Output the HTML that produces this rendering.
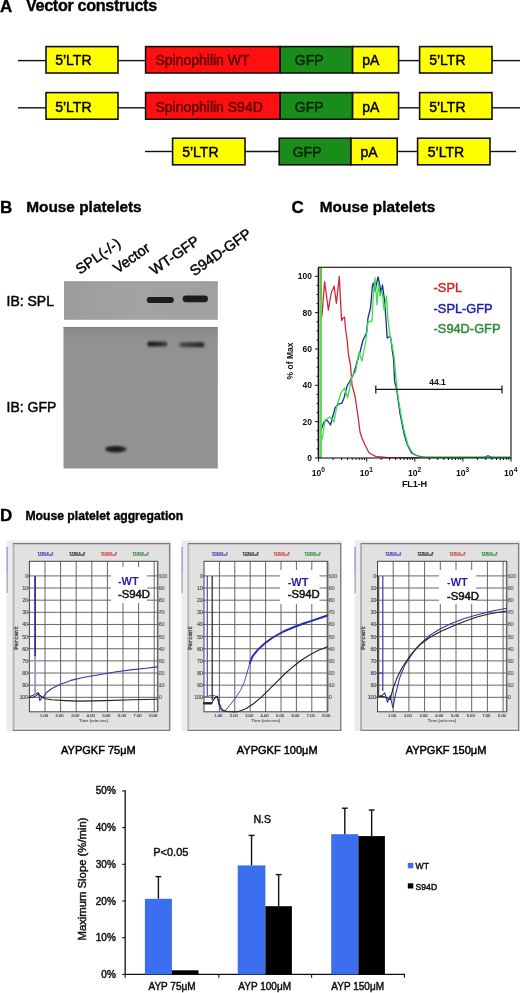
<!DOCTYPE html>
<html><head><meta charset="utf-8"><title>Figure</title>
<style>html,body{margin:0;padding:0;background:#fff;}svg{display:block;filter:blur(0.3px);}
</style></head>
<body><svg width="520" height="993" viewBox="0 0 520 993" font-family='"Liberation Sans", sans-serif'>
<rect x="0" y="0" width="520" height="993" fill="#fff"/>
<text x="0" y="11.6" font-size="17" font-weight="bold" fill="#000" text-anchor="start" stroke="#000" stroke-width="0.35" >A</text>
<text x="26" y="11" font-size="16.2" font-weight="bold" fill="#000" text-anchor="start" stroke="#000" stroke-width="0.35" letter-spacing="-0.35">Vector constructs</text>
<line x1="18" y1="60.6" x2="46" y2="60.6" stroke="#111" stroke-width="1.4" />
<line x1="118" y1="60.6" x2="145.6" y2="60.6" stroke="#111" stroke-width="1.4" />
<line x1="398.6" y1="60.6" x2="419.6" y2="60.6" stroke="#111" stroke-width="1.4" />
<line x1="492" y1="60.6" x2="520" y2="60.6" stroke="#111" stroke-width="1.4" />
<rect x="46" y="46.6" width="72" height="26.4" fill="#ffff00" stroke="#111" stroke-width="1.6" />
<text x="55.2" y="65.4" font-size="14" font-weight="normal" fill="#000" text-anchor="start" stroke="#000" stroke-width="0.45" >5’LTR</text>
<rect x="145.6" y="46.6" width="134.6" height="26.4" fill="#ff1010" stroke="#111" stroke-width="1.6" />
<text x="155.4" y="65.4" font-size="14" font-weight="normal" fill="#5a0000" text-anchor="start" stroke="#5a0000" stroke-width="0.45" >Spinophilin WT</text>
<rect x="280.2" y="46.6" width="72.40000000000003" height="26.4" fill="#1a8c1a" stroke="#111" stroke-width="1.6" />
<text x="294.8" y="65.4" font-size="14" font-weight="normal" fill="#062006" text-anchor="start" stroke="#062006" stroke-width="0.45" >GFP</text>
<rect x="352.6" y="46.6" width="46.0" height="26.4" fill="#ffff00" stroke="#111" stroke-width="1.6" />
<text x="362.3" y="65.4" font-size="14" font-weight="normal" fill="#000" text-anchor="start" stroke="#000" stroke-width="0.45" >pA</text>
<rect x="419.6" y="46.6" width="72.39999999999998" height="26.4" fill="#ffff00" stroke="#111" stroke-width="1.6" />
<text x="429.2" y="65.4" font-size="14" font-weight="normal" fill="#000" text-anchor="start" stroke="#000" stroke-width="0.45" >5’LTR</text>
<line x1="18" y1="107.8" x2="46" y2="107.8" stroke="#111" stroke-width="1.4" />
<line x1="118" y1="107.8" x2="145.6" y2="107.8" stroke="#111" stroke-width="1.4" />
<line x1="398.6" y1="107.8" x2="419.6" y2="107.8" stroke="#111" stroke-width="1.4" />
<line x1="492" y1="107.8" x2="520" y2="107.8" stroke="#111" stroke-width="1.4" />
<rect x="46" y="92.6" width="72" height="26.60000000000001" fill="#ffff00" stroke="#111" stroke-width="1.6" />
<text x="55.2" y="111.60000000000001" font-size="14" font-weight="normal" fill="#000" text-anchor="start" stroke="#000" stroke-width="0.45" >5’LTR</text>
<rect x="145.6" y="92.6" width="134.6" height="26.60000000000001" fill="#ff1010" stroke="#111" stroke-width="1.6" />
<text x="155.4" y="111.60000000000001" font-size="14" font-weight="normal" fill="#5a0000" text-anchor="start" stroke="#5a0000" stroke-width="0.45" >Spinophilin S94D</text>
<rect x="280.2" y="92.6" width="72.40000000000003" height="26.60000000000001" fill="#1a8c1a" stroke="#111" stroke-width="1.6" />
<text x="294.8" y="111.60000000000001" font-size="14" font-weight="normal" fill="#062006" text-anchor="start" stroke="#062006" stroke-width="0.45" >GFP</text>
<rect x="352.6" y="92.6" width="46.0" height="26.60000000000001" fill="#ffff00" stroke="#111" stroke-width="1.6" />
<text x="362.3" y="111.60000000000001" font-size="14" font-weight="normal" fill="#000" text-anchor="start" stroke="#000" stroke-width="0.45" >pA</text>
<rect x="419.6" y="92.6" width="72.39999999999998" height="26.60000000000001" fill="#ffff00" stroke="#111" stroke-width="1.6" />
<text x="429.2" y="111.60000000000001" font-size="14" font-weight="normal" fill="#000" text-anchor="start" stroke="#000" stroke-width="0.45" >5’LTR</text>
<line x1="145" y1="151.5" x2="172.6" y2="151.5" stroke="#111" stroke-width="1.4" />
<line x1="245" y1="151.5" x2="279.2" y2="151.5" stroke="#111" stroke-width="1.4" />
<line x1="397.2" y1="151.5" x2="417.6" y2="151.5" stroke="#111" stroke-width="1.4" />
<line x1="490" y1="151.5" x2="516" y2="151.5" stroke="#111" stroke-width="1.4" />
<rect x="172.6" y="138.2" width="72.4" height="26.600000000000023" fill="#ffff00" stroke="#111" stroke-width="1.6" />
<text x="182.2" y="157.20000000000002" font-size="14" font-weight="normal" fill="#000" text-anchor="start" stroke="#000" stroke-width="0.45" >5’LTR</text>
<rect x="279.2" y="138.2" width="71.80000000000001" height="26.600000000000023" fill="#1a8c1a" stroke="#111" stroke-width="1.6" />
<text x="292.7" y="157.20000000000002" font-size="14" font-weight="normal" fill="#062006" text-anchor="start" stroke="#062006" stroke-width="0.45" >GFP</text>
<rect x="351" y="138.2" width="46.19999999999999" height="26.600000000000023" fill="#ffff00" stroke="#111" stroke-width="1.6" />
<text x="360.4" y="157.20000000000002" font-size="14" font-weight="normal" fill="#000" text-anchor="start" stroke="#000" stroke-width="0.45" >pA</text>
<rect x="417.6" y="138.2" width="72.39999999999998" height="26.600000000000023" fill="#ffff00" stroke="#111" stroke-width="1.6" />
<text x="427.8" y="157.20000000000002" font-size="14" font-weight="normal" fill="#000" text-anchor="start" stroke="#000" stroke-width="0.45" >5’LTR</text>
<text x="0" y="212.6" font-size="17" font-weight="bold" fill="#000" text-anchor="start" stroke="#000" stroke-width="0.35" >B</text>
<text x="26.2" y="212" font-size="15.4" font-weight="bold" fill="#000" text-anchor="start" stroke="#000" stroke-width="0.35" >Mouse platelets</text>
<text x="0" y="0" font-size="14.5" font-weight="normal" fill="#000" text-anchor="start" stroke="#000" stroke-width="0.45" transform="translate(80.1,274.7) rotate(-35)">SPL(-/-)</text>
<text x="0" y="0" font-size="14.5" font-weight="normal" fill="#000" text-anchor="start" stroke="#000" stroke-width="0.45" transform="translate(117.5,273.8) rotate(-35)">Vector</text>
<text x="0" y="0" font-size="14.5" font-weight="normal" fill="#000" text-anchor="start" stroke="#000" stroke-width="0.45" transform="translate(154.2,275.6) rotate(-35)">WT-GFP</text>
<text x="0" y="0" font-size="14.5" font-weight="normal" fill="#000" text-anchor="start" stroke="#000" stroke-width="0.45" transform="translate(194.3,276.5) rotate(-35)">S94D-GFP</text>
<text x="6.5" y="306" font-size="14" font-weight="normal" fill="#000" text-anchor="start" stroke="#000" stroke-width="0.45" >IB: SPL</text>
<text x="6.5" y="411.7" font-size="14" font-weight="normal" fill="#000" text-anchor="start" stroke="#000" stroke-width="0.45" >IB: GFP</text>
<defs><filter id="bl1" x="-50%" y="-100%" width="200%" height="300%"><feGaussianBlur stdDeviation="0.9"/></filter><filter id="bl2" x="-50%" y="-100%" width="200%" height="300%"><feGaussianBlur stdDeviation="0.75"/></filter><linearGradient id="g1" x1="0" y1="0" x2="1" y2="0"><stop offset="0" stop-color="#9c9c9c"/><stop offset="0.5" stop-color="#a3a3a3"/><stop offset="1" stop-color="#a0a0a0"/></linearGradient><linearGradient id="g2" x1="0" y1="0" x2="0" y2="1"><stop offset="0" stop-color="#8a8a8a"/><stop offset="0.1" stop-color="#919191"/><stop offset="1" stop-color="#939393"/></linearGradient></defs>
<rect x="64" y="281.5" width="153.8" height="38.3" fill="url(#g1)" stroke="none" stroke-width="1" />
<rect x="63.5" y="327" width="154.3" height="141.5" fill="url(#g2)" stroke="none" stroke-width="1" />
<line x1="63.5" y1="327.6" x2="217.8" y2="327.6" stroke="#7c7c7c" stroke-width="1" />
<line x1="64" y1="281.9" x2="217.8" y2="281.9" stroke="#929292" stroke-width="0.8" />
<defs><linearGradient id="bg1" x1="0" y1="0" x2="1" y2="0"><stop offset="0" stop-color="#1a1a1a"/><stop offset="0.6" stop-color="#2a2a2a"/><stop offset="1" stop-color="#4a4a4a"/></linearGradient><linearGradient id="bg2" x1="0" y1="0" x2="1" y2="0"><stop offset="0" stop-color="#505050"/><stop offset="0.5" stop-color="#383838"/><stop offset="1" stop-color="#242424"/></linearGradient><linearGradient id="bg3" x1="0" y1="0" x2="1" y2="0"><stop offset="0" stop-color="#1c1c1c"/><stop offset="0.7" stop-color="#202020"/><stop offset="1" stop-color="#3a3a3a"/></linearGradient><filter id="bl3" x="-50%" y="-100%" width="200%" height="300%"><feGaussianBlur stdDeviation="1.0"/></filter></defs>
<rect x="146.8" y="296.9" width="27.0" height="6.2000000000000455" rx="3.1000000000000227" fill="#1e1e1e" filter="url(#bl2)"/>
<rect x="182.6" y="295.4" width="25.400000000000006" height="6.900000000000034" rx="3.450000000000017" fill="#1e1e1e" filter="url(#bl2)"/>
<rect x="147.3" y="341.6" width="20.299999999999983" height="5.0" rx="2.5" fill="url(#bg1)" filter="url(#bl3)"/>
<rect x="179.2" y="342.2" width="25.200000000000017" height="5.0" rx="2.5" fill="url(#bg2)" filter="url(#bl3)"/>
<ellipse cx="116" cy="449.2" rx="10.8" ry="3.3" fill="url(#bg3)" filter="url(#bl3)"/>
<text x="291.6" y="212.6" font-size="17" font-weight="bold" fill="#000" text-anchor="start" stroke="#000" stroke-width="0.35" >C</text>
<text x="319.8" y="212" font-size="15.4" font-weight="bold" fill="#000" text-anchor="start" stroke="#000" stroke-width="0.35" >Mouse platelets</text>
<polyline points="321.0,318.0 322.0,315.4 324.6,281.6 326.5,296.0 328.4,310.2 330.0,300.0 331.5,292.0 333.0,289.0 334.1,286.0 335.3,295.0 336.4,303.3 337.8,290.0 339.3,276.4 340.5,300.0 341.6,320.6 343.0,318.0 344.5,317.1 345.7,330.0 347.1,340.0 348.5,355.0 350.5,365.0 352.0,385.0 355.0,396.0 358.5,420.0 360.0,432.0 362.0,438.0 365.0,445.0 369.2,453.0 375.6,456.3 386.0,457.3 420.0,457.6" fill="none" stroke="#cc2a36" stroke-width="1.3" stroke-linejoin="round" stroke-linecap="round" />
<polyline points="320.8,432.0 321.0,430.0 324.0,422.0 327.0,420.0 330.5,425.0 335.0,408.0 338.5,404.0 342.0,403.0 344.0,398.0 347.0,386.0 350.0,381.0 354.0,373.0 357.0,362.0 360.0,352.0 363.0,340.0 366.5,333.0 368.0,318.0 370.5,308.0 372.5,285.0 373.5,283.0 375.0,291.0 378.0,277.0 380.0,286.0 381.0,293.0 382.5,285.0 384.5,300.0 386.0,320.0 387.2,338.0 390.4,336.2 392.5,352.0 393.6,359.4 394.6,381.2 396.7,389.6 399.9,412.9 404.1,434.0 407.3,444.6 411.5,453.0 415.8,455.2 420.0,456.5 425.0,457.3 484.0,457.3 488.0,455.8 492.0,457.3 510.0,457.3" fill="none" stroke="#1c2a9c" stroke-width="1.3" stroke-linejoin="round" stroke-linecap="round" />
<polyline points="321.0,440.0 322.5,438.0 325.0,420.0 330.0,417.0 334.0,422.0 337.0,405.0 341.0,393.0 344.5,388.0 347.5,398.0 352.0,376.0 355.5,372.0 359.0,352.0 362.0,361.0 366.0,340.0 368.0,322.0 372.0,321.0 373.0,300.0 375.0,278.0 377.0,305.0 378.5,283.0 380.0,296.0 382.0,290.0 384.0,310.0 386.5,296.0 388.0,320.0 390.0,335.0 392.0,345.0 394.0,356.0 396.0,378.0 398.0,396.0 401.0,415.0 404.0,430.0 408.0,445.0 412.0,452.0 416.0,455.5 420.0,457.2 510.0,457.2" fill="none" stroke="#3ddc4a" stroke-width="1.3" stroke-linejoin="round" stroke-linecap="round" />
<line x1="320.9" y1="268" x2="320.9" y2="458" stroke="#4ede4e" stroke-width="2" />
<line x1="321.2" y1="268" x2="321.2" y2="300" stroke="#a06020" stroke-width="0.8" opacity="0.6"/>
<rect x="318.6" y="267.3" width="192.39999999999998" height="190.7" fill="none" stroke="#111" stroke-width="1.1" />
<line x1="318.40000000000003" y1="267.3" x2="318.40000000000003" y2="458" stroke="#111" stroke-width="1.5" />
<line x1="315.0" y1="458.0" x2="318.6" y2="458.0" stroke="#111" stroke-width="1" />
<line x1="316.6" y1="448.915" x2="318.6" y2="448.915" stroke="#111" stroke-width="1" />
<line x1="316.6" y1="439.83" x2="318.6" y2="439.83" stroke="#111" stroke-width="1" />
<line x1="316.6" y1="430.745" x2="318.6" y2="430.745" stroke="#111" stroke-width="1" />
<line x1="315.0" y1="421.65999999999997" x2="318.6" y2="421.65999999999997" stroke="#111" stroke-width="1" />
<line x1="316.6" y1="412.575" x2="318.6" y2="412.575" stroke="#111" stroke-width="1" />
<line x1="316.6" y1="403.49" x2="318.6" y2="403.49" stroke="#111" stroke-width="1" />
<line x1="316.6" y1="394.405" x2="318.6" y2="394.405" stroke="#111" stroke-width="1" />
<line x1="315.0" y1="385.32" x2="318.6" y2="385.32" stroke="#111" stroke-width="1" />
<line x1="316.6" y1="376.235" x2="318.6" y2="376.235" stroke="#111" stroke-width="1" />
<line x1="316.6" y1="367.15" x2="318.6" y2="367.15" stroke="#111" stroke-width="1" />
<line x1="316.6" y1="358.065" x2="318.6" y2="358.065" stroke="#111" stroke-width="1" />
<line x1="315.0" y1="348.98" x2="318.6" y2="348.98" stroke="#111" stroke-width="1" />
<line x1="316.6" y1="339.895" x2="318.6" y2="339.895" stroke="#111" stroke-width="1" />
<line x1="316.6" y1="330.81" x2="318.6" y2="330.81" stroke="#111" stroke-width="1" />
<line x1="316.6" y1="321.725" x2="318.6" y2="321.725" stroke="#111" stroke-width="1" />
<line x1="315.0" y1="312.64" x2="318.6" y2="312.64" stroke="#111" stroke-width="1" />
<line x1="316.6" y1="303.555" x2="318.6" y2="303.555" stroke="#111" stroke-width="1" />
<line x1="316.6" y1="294.47" x2="318.6" y2="294.47" stroke="#111" stroke-width="1" />
<line x1="316.6" y1="285.385" x2="318.6" y2="285.385" stroke="#111" stroke-width="1" />
<line x1="315.0" y1="276.3" x2="318.6" y2="276.3" stroke="#111" stroke-width="1" />
<text x="312" y="461.0" font-size="8.5" font-weight="bold" fill="#111" text-anchor="end" >0</text>
<text x="312" y="424.65999999999997" font-size="8.5" font-weight="bold" fill="#111" text-anchor="end" >20</text>
<text x="312" y="388.32" font-size="8.5" font-weight="bold" fill="#111" text-anchor="end" >40</text>
<text x="312" y="351.98" font-size="8.5" font-weight="bold" fill="#111" text-anchor="end" >60</text>
<text x="312" y="315.64" font-size="8.5" font-weight="bold" fill="#111" text-anchor="end" >80</text>
<text x="312" y="279.3" font-size="8.5" font-weight="bold" fill="#111" text-anchor="end" >100</text>
<text x="0" y="0" font-size="8.5" font-weight="bold" fill="#111" text-anchor="middle" transform="translate(292.6,361) rotate(-90)">% of Max</text>
<line x1="318.6" y1="458" x2="318.6" y2="461.6" stroke="#111" stroke-width="1" />
<line x1="333.0795427914375" y1="458" x2="333.0795427914375" y2="460" stroke="#111" stroke-width="1" />
<line x1="341.5495323520158" y1="458" x2="341.5495323520158" y2="460" stroke="#111" stroke-width="1" />
<line x1="347.559085582875" y1="458" x2="347.559085582875" y2="460" stroke="#111" stroke-width="1" />
<line x1="352.22045720856255" y1="458" x2="352.22045720856255" y2="460" stroke="#111" stroke-width="1" />
<line x1="356.02907514345327" y1="458" x2="356.02907514345327" y2="460" stroke="#111" stroke-width="1" />
<line x1="359.24921572468577" y1="458" x2="359.24921572468577" y2="460" stroke="#111" stroke-width="1" />
<line x1="362.0386283743125" y1="458" x2="362.0386283743125" y2="460" stroke="#111" stroke-width="1" />
<line x1="364.4990647040315" y1="458" x2="364.4990647040315" y2="460" stroke="#111" stroke-width="1" />
<line x1="366.70000000000005" y1="458" x2="366.70000000000005" y2="461.6" stroke="#111" stroke-width="1" />
<line x1="381.1795427914375" y1="458" x2="381.1795427914375" y2="460" stroke="#111" stroke-width="1" />
<line x1="389.64953235201574" y1="458" x2="389.64953235201574" y2="460" stroke="#111" stroke-width="1" />
<line x1="395.65908558287504" y1="458" x2="395.65908558287504" y2="460" stroke="#111" stroke-width="1" />
<line x1="400.3204572085625" y1="458" x2="400.3204572085625" y2="460" stroke="#111" stroke-width="1" />
<line x1="404.1290751434533" y1="458" x2="404.1290751434533" y2="460" stroke="#111" stroke-width="1" />
<line x1="407.3492157246858" y1="458" x2="407.3492157246858" y2="460" stroke="#111" stroke-width="1" />
<line x1="410.1386283743125" y1="458" x2="410.1386283743125" y2="460" stroke="#111" stroke-width="1" />
<line x1="412.59906470403155" y1="458" x2="412.59906470403155" y2="460" stroke="#111" stroke-width="1" />
<line x1="414.8" y1="458" x2="414.8" y2="461.6" stroke="#111" stroke-width="1" />
<line x1="429.2795427914375" y1="458" x2="429.2795427914375" y2="460" stroke="#111" stroke-width="1" />
<line x1="437.74953235201576" y1="458" x2="437.74953235201576" y2="460" stroke="#111" stroke-width="1" />
<line x1="443.759085582875" y1="458" x2="443.759085582875" y2="460" stroke="#111" stroke-width="1" />
<line x1="448.42045720856254" y1="458" x2="448.42045720856254" y2="460" stroke="#111" stroke-width="1" />
<line x1="452.2290751434533" y1="458" x2="452.2290751434533" y2="460" stroke="#111" stroke-width="1" />
<line x1="455.44921572468576" y1="458" x2="455.44921572468576" y2="460" stroke="#111" stroke-width="1" />
<line x1="458.2386283743125" y1="458" x2="458.2386283743125" y2="460" stroke="#111" stroke-width="1" />
<line x1="460.6990647040315" y1="458" x2="460.6990647040315" y2="460" stroke="#111" stroke-width="1" />
<line x1="462.9" y1="458" x2="462.9" y2="461.6" stroke="#111" stroke-width="1" />
<line x1="477.37954279143753" y1="458" x2="477.37954279143753" y2="460" stroke="#111" stroke-width="1" />
<line x1="485.8495323520158" y1="458" x2="485.8495323520158" y2="460" stroke="#111" stroke-width="1" />
<line x1="491.85908558287497" y1="458" x2="491.85908558287497" y2="460" stroke="#111" stroke-width="1" />
<line x1="496.5204572085625" y1="458" x2="496.5204572085625" y2="460" stroke="#111" stroke-width="1" />
<line x1="500.3290751434533" y1="458" x2="500.3290751434533" y2="460" stroke="#111" stroke-width="1" />
<line x1="503.5492157246857" y1="458" x2="503.5492157246857" y2="460" stroke="#111" stroke-width="1" />
<line x1="506.3386283743125" y1="458" x2="506.3386283743125" y2="460" stroke="#111" stroke-width="1" />
<line x1="508.7990647040315" y1="458" x2="508.7990647040315" y2="460" stroke="#111" stroke-width="1" />
<line x1="511" y1="458" x2="511" y2="461.6" stroke="#111" stroke-width="1" />
<text x="318.3" y="476.3" font-size="8.6" font-weight="bold" fill="#111" text-anchor="middle">10<tspan font-size="6.6" dy="-4.4">0</tspan></text>
<text x="366.40000000000003" y="476.3" font-size="8.6" font-weight="bold" fill="#111" text-anchor="middle">10<tspan font-size="6.6" dy="-4.4">1</tspan></text>
<text x="414.5" y="476.3" font-size="8.6" font-weight="bold" fill="#111" text-anchor="middle">10<tspan font-size="6.6" dy="-4.4">2</tspan></text>
<text x="462.59999999999997" y="476.3" font-size="8.6" font-weight="bold" fill="#111" text-anchor="middle">10<tspan font-size="6.6" dy="-4.4">3</tspan></text>
<text x="510.7" y="476.3" font-size="8.6" font-weight="bold" fill="#111" text-anchor="middle">10<tspan font-size="6.6" dy="-4.4">4</tspan></text>
<text x="414.4" y="486.5" font-size="9.2" font-weight="bold" fill="#111" text-anchor="middle" letter-spacing="-0.2">FL1-H</text>
<line x1="375.8" y1="389.4" x2="502" y2="389.4" stroke="#111" stroke-width="1.4" />
<line x1="375.8" y1="385.4" x2="375.8" y2="393.6" stroke="#111" stroke-width="1.2" />
<line x1="502" y1="385.4" x2="502" y2="393.6" stroke="#111" stroke-width="1.2" />
<text x="437.5" y="385" font-size="8.5" font-weight="bold" fill="#111" text-anchor="middle" >44.1</text>
<text x="433.6" y="291.5" font-size="12.8" font-weight="normal" fill="#d02828" text-anchor="start" stroke="#d02828" stroke-width="0.45" >-SPL</text>
<text x="433.6" y="312.7" font-size="12.8" font-weight="normal" fill="#1e1eaa" text-anchor="start" stroke="#1e1eaa" stroke-width="0.45" >-SPL-GFP</text>
<text x="433.6" y="332.5" font-size="12.8" font-weight="normal" fill="#2e8a3a" text-anchor="start" stroke="#2e8a3a" stroke-width="0.45" >-S94D-GFP</text>
<text x="0" y="520.8" font-size="17" font-weight="bold" fill="#000" text-anchor="start" stroke="#000" stroke-width="0.35" >D</text>
<text x="25.4" y="519.5" font-size="12.2" font-weight="bold" fill="#000" text-anchor="start" stroke="#000" stroke-width="0.35" >Mouse platelet aggregation</text>
<rect x="6.5" y="540.5" width="164.5" height="190.5" fill="#ececec" stroke="none" stroke-width="1" />
<line x1="7.1" y1="547" x2="7.1" y2="572" stroke="#8888dd" stroke-width="1.2" />
<line x1="7.1" y1="572" x2="7.1" y2="593" stroke="#a0a0b0" stroke-width="1.2" />
<rect x="13.5" y="543.6" width="156.1" height="186.69999999999993" fill="#e1e1e1" stroke="#7c7c7c" stroke-width="1.3" />
<line x1="13.5" y1="544.2" x2="13.5" y2="729.8" stroke="#b4b4b4" stroke-width="1.3" />
<line x1="14.7" y1="728.8" x2="168.6" y2="728.8" stroke="#f4f4f4" stroke-width="0.8" />
<rect x="29.4" y="561.3" width="128.2" height="150.5" fill="#ffffff" stroke="none" stroke-width="1" />
<line x1="45.0" y1="561.3" x2="45.0" y2="711.8" stroke="#555" stroke-width="0.9" />
<line x1="60.599999999999994" y1="561.3" x2="60.599999999999994" y2="711.8" stroke="#555" stroke-width="0.9" />
<line x1="76.19999999999999" y1="561.3" x2="76.19999999999999" y2="711.8" stroke="#555" stroke-width="0.9" />
<line x1="91.8" y1="561.3" x2="91.8" y2="711.8" stroke="#555" stroke-width="0.9" />
<line x1="107.4" y1="561.3" x2="107.4" y2="711.8" stroke="#555" stroke-width="0.9" />
<line x1="123.0" y1="561.3" x2="123.0" y2="711.8" stroke="#555" stroke-width="0.9" />
<line x1="138.6" y1="561.3" x2="138.6" y2="711.8" stroke="#555" stroke-width="0.9" />
<line x1="154.2" y1="561.3" x2="154.2" y2="711.8" stroke="#555" stroke-width="0.9" />
<line x1="29.4" y1="575.9" x2="157.6" y2="575.9" stroke="#555" stroke-width="0.9" />
<line x1="29.4" y1="588.04" x2="157.6" y2="588.04" stroke="#555" stroke-width="0.9" />
<line x1="29.4" y1="600.18" x2="157.6" y2="600.18" stroke="#555" stroke-width="0.9" />
<line x1="29.4" y1="612.3199999999999" x2="157.6" y2="612.3199999999999" stroke="#555" stroke-width="0.9" />
<line x1="29.4" y1="624.46" x2="157.6" y2="624.46" stroke="#555" stroke-width="0.9" />
<line x1="29.4" y1="636.6" x2="157.6" y2="636.6" stroke="#555" stroke-width="0.9" />
<line x1="29.4" y1="648.74" x2="157.6" y2="648.74" stroke="#555" stroke-width="0.9" />
<line x1="29.4" y1="660.88" x2="157.6" y2="660.88" stroke="#555" stroke-width="0.9" />
<line x1="29.4" y1="673.02" x2="157.6" y2="673.02" stroke="#555" stroke-width="0.9" />
<line x1="29.4" y1="685.16" x2="157.6" y2="685.16" stroke="#555" stroke-width="0.9" />
<line x1="29.4" y1="697.3" x2="157.6" y2="697.3" stroke="#555" stroke-width="0.9" />
<rect x="29.4" y="561.3" width="128.2" height="150.5" fill="none" stroke="#444" stroke-width="1" />
<line x1="157.6" y1="561.3" x2="157.6" y2="711.8" stroke="#666" stroke-width="1.4" />
<line x1="27.4" y1="575.9" x2="29.4" y2="575.9" stroke="#555" stroke-width="0.9" />
<line x1="157.6" y1="575.9" x2="159.79999999999998" y2="575.9" stroke="#666" stroke-width="0.9" />
<text x="27.9" y="577.9" font-size="5.6" font-weight="normal" fill="#555" text-anchor="end" stroke="#555" stroke-width="0.15" letter-spacing="-0.35">0</text>
<text x="158.79999999999998" y="577.9" font-size="5.6" font-weight="normal" fill="#666" text-anchor="start" stroke="#666" stroke-width="0.15" letter-spacing="-0.35">100</text>
<line x1="27.4" y1="588.04" x2="29.4" y2="588.04" stroke="#555" stroke-width="0.9" />
<line x1="157.6" y1="588.04" x2="159.79999999999998" y2="588.04" stroke="#666" stroke-width="0.9" />
<text x="27.9" y="590.04" font-size="5.6" font-weight="normal" fill="#555" text-anchor="end" stroke="#555" stroke-width="0.15" letter-spacing="-0.35">10</text>
<text x="158.79999999999998" y="590.04" font-size="5.6" font-weight="normal" fill="#666" text-anchor="start" stroke="#666" stroke-width="0.15" letter-spacing="-0.35">90</text>
<line x1="27.4" y1="600.18" x2="29.4" y2="600.18" stroke="#555" stroke-width="0.9" />
<line x1="157.6" y1="600.18" x2="159.79999999999998" y2="600.18" stroke="#666" stroke-width="0.9" />
<text x="27.9" y="602.18" font-size="5.6" font-weight="normal" fill="#555" text-anchor="end" stroke="#555" stroke-width="0.15" letter-spacing="-0.35">20</text>
<text x="158.79999999999998" y="602.18" font-size="5.6" font-weight="normal" fill="#666" text-anchor="start" stroke="#666" stroke-width="0.15" letter-spacing="-0.35">80</text>
<line x1="27.4" y1="612.3199999999999" x2="29.4" y2="612.3199999999999" stroke="#555" stroke-width="0.9" />
<line x1="157.6" y1="612.3199999999999" x2="159.79999999999998" y2="612.3199999999999" stroke="#666" stroke-width="0.9" />
<text x="27.9" y="614.3199999999999" font-size="5.6" font-weight="normal" fill="#555" text-anchor="end" stroke="#555" stroke-width="0.15" letter-spacing="-0.35">30</text>
<text x="158.79999999999998" y="614.3199999999999" font-size="5.6" font-weight="normal" fill="#666" text-anchor="start" stroke="#666" stroke-width="0.15" letter-spacing="-0.35">70</text>
<line x1="27.4" y1="624.46" x2="29.4" y2="624.46" stroke="#555" stroke-width="0.9" />
<line x1="157.6" y1="624.46" x2="159.79999999999998" y2="624.46" stroke="#666" stroke-width="0.9" />
<text x="27.9" y="626.46" font-size="5.6" font-weight="normal" fill="#555" text-anchor="end" stroke="#555" stroke-width="0.15" letter-spacing="-0.35">40</text>
<text x="158.79999999999998" y="626.46" font-size="5.6" font-weight="normal" fill="#666" text-anchor="start" stroke="#666" stroke-width="0.15" letter-spacing="-0.35">60</text>
<line x1="27.4" y1="636.6" x2="29.4" y2="636.6" stroke="#555" stroke-width="0.9" />
<line x1="157.6" y1="636.6" x2="159.79999999999998" y2="636.6" stroke="#666" stroke-width="0.9" />
<text x="27.9" y="638.6" font-size="5.6" font-weight="normal" fill="#555" text-anchor="end" stroke="#555" stroke-width="0.15" letter-spacing="-0.35">50</text>
<text x="158.79999999999998" y="638.6" font-size="5.6" font-weight="normal" fill="#666" text-anchor="start" stroke="#666" stroke-width="0.15" letter-spacing="-0.35">50</text>
<line x1="27.4" y1="648.74" x2="29.4" y2="648.74" stroke="#555" stroke-width="0.9" />
<line x1="157.6" y1="648.74" x2="159.79999999999998" y2="648.74" stroke="#666" stroke-width="0.9" />
<text x="27.9" y="650.74" font-size="5.6" font-weight="normal" fill="#555" text-anchor="end" stroke="#555" stroke-width="0.15" letter-spacing="-0.35">60</text>
<text x="158.79999999999998" y="650.74" font-size="5.6" font-weight="normal" fill="#666" text-anchor="start" stroke="#666" stroke-width="0.15" letter-spacing="-0.35">40</text>
<line x1="27.4" y1="660.88" x2="29.4" y2="660.88" stroke="#555" stroke-width="0.9" />
<line x1="157.6" y1="660.88" x2="159.79999999999998" y2="660.88" stroke="#666" stroke-width="0.9" />
<text x="27.9" y="662.88" font-size="5.6" font-weight="normal" fill="#555" text-anchor="end" stroke="#555" stroke-width="0.15" letter-spacing="-0.35">70</text>
<text x="158.79999999999998" y="662.88" font-size="5.6" font-weight="normal" fill="#666" text-anchor="start" stroke="#666" stroke-width="0.15" letter-spacing="-0.35">30</text>
<line x1="27.4" y1="673.02" x2="29.4" y2="673.02" stroke="#555" stroke-width="0.9" />
<line x1="157.6" y1="673.02" x2="159.79999999999998" y2="673.02" stroke="#666" stroke-width="0.9" />
<text x="27.9" y="675.02" font-size="5.6" font-weight="normal" fill="#555" text-anchor="end" stroke="#555" stroke-width="0.15" letter-spacing="-0.35">80</text>
<text x="158.79999999999998" y="675.02" font-size="5.6" font-weight="normal" fill="#666" text-anchor="start" stroke="#666" stroke-width="0.15" letter-spacing="-0.35">20</text>
<line x1="27.4" y1="685.16" x2="29.4" y2="685.16" stroke="#555" stroke-width="0.9" />
<line x1="157.6" y1="685.16" x2="159.79999999999998" y2="685.16" stroke="#666" stroke-width="0.9" />
<text x="27.9" y="687.16" font-size="5.6" font-weight="normal" fill="#555" text-anchor="end" stroke="#555" stroke-width="0.15" letter-spacing="-0.35">90</text>
<text x="158.79999999999998" y="687.16" font-size="5.6" font-weight="normal" fill="#666" text-anchor="start" stroke="#666" stroke-width="0.15" letter-spacing="-0.35">10</text>
<line x1="27.4" y1="697.3" x2="29.4" y2="697.3" stroke="#555" stroke-width="0.9" />
<line x1="157.6" y1="697.3" x2="159.79999999999998" y2="697.3" stroke="#666" stroke-width="0.9" />
<text x="27.9" y="699.3" font-size="5.6" font-weight="normal" fill="#555" text-anchor="end" stroke="#555" stroke-width="0.15" letter-spacing="-0.35">100</text>
<text x="158.79999999999998" y="699.3" font-size="5.6" font-weight="normal" fill="#666" text-anchor="start" stroke="#666" stroke-width="0.15" letter-spacing="-0.35">0</text>
<text x="0" y="0" font-size="5.6" font-weight="normal" fill="#555" text-anchor="middle" stroke="#555" stroke-width="0.45" font-family='"Liberation Mono", monospace' transform="translate(17.5,638) rotate(-90)">Percent</text>
<text x="44.0" y="716.8" font-size="4.1" font-weight="normal" fill="#555" text-anchor="middle" stroke="#555" stroke-width="0.2" >1.00</text>
<text x="59.599999999999994" y="716.8" font-size="4.1" font-weight="normal" fill="#555" text-anchor="middle" stroke="#555" stroke-width="0.2" >2.00</text>
<text x="75.19999999999999" y="716.8" font-size="4.1" font-weight="normal" fill="#555" text-anchor="middle" stroke="#555" stroke-width="0.2" >3.00</text>
<text x="90.8" y="716.8" font-size="4.1" font-weight="normal" fill="#555" text-anchor="middle" stroke="#555" stroke-width="0.2" >4.00</text>
<text x="106.4" y="716.8" font-size="4.1" font-weight="normal" fill="#555" text-anchor="middle" stroke="#555" stroke-width="0.2" >5.00</text>
<text x="122.0" y="716.8" font-size="4.1" font-weight="normal" fill="#555" text-anchor="middle" stroke="#555" stroke-width="0.2" >6.00</text>
<text x="137.6" y="716.8" font-size="4.1" font-weight="normal" fill="#555" text-anchor="middle" stroke="#555" stroke-width="0.2" >7.00</text>
<text x="153.2" y="716.8" font-size="4.1" font-weight="normal" fill="#555" text-anchor="middle" stroke="#555" stroke-width="0.2" >8.00</text>
<text x="93.5" y="721.8" font-size="4.1" font-weight="bold" fill="#555" text-anchor="middle" >Time (min:sec)</text>
<text x="45.51570512820513" y="553.9" font-size="3.9" font-weight="bold" fill="#3333aa" text-anchor="middle" stroke="#3333aa" stroke-width="0.05" font-family='"Liberation Mono", monospace'>Trace 1</text>
<line x1="38.01570512820513" y1="555.0" x2="53.01570512820513" y2="555.0" stroke="#3333cc" stroke-width="1.1" />
<text x="77.23602564102563" y="553.9" font-size="3.9" font-weight="bold" fill="#222" text-anchor="middle" stroke="#222" stroke-width="0.05" font-family='"Liberation Mono", monospace'>Trace 2</text>
<line x1="69.73602564102563" y1="555.0" x2="84.73602564102563" y2="555.0" stroke="#222" stroke-width="1.1" />
<text x="108.95634615384616" y="553.9" font-size="3.9" font-weight="bold" fill="#cc3333" text-anchor="middle" stroke="#cc3333" stroke-width="0.05" font-family='"Liberation Mono", monospace'>Trace 3</text>
<line x1="101.45634615384616" y1="555.0" x2="116.45634615384616" y2="555.0" stroke="#dd3333" stroke-width="1.1" />
<text x="140.67666666666665" y="553.9" font-size="3.9" font-weight="bold" fill="#2a7a2a" text-anchor="middle" stroke="#2a7a2a" stroke-width="0.05" font-family='"Liberation Mono", monospace'>Trace 4</text>
<line x1="133.17666666666665" y1="555.0" x2="148.17666666666665" y2="555.0" stroke="#2a8a2a" stroke-width="1.1" />
<polyline points="29.5,696.5 33.0,695.2 35.0,694.0 38.5,692.5 39.8,700.6 41.7,697.9 43.8,696.5 46.5,692.5 51.9,688.5 60.0,684.4 70.8,680.4 84.2,677.2 100.4,674.5 116.5,671.8 132.7,669.6 146.2,668.3 157.0,666.9" fill="none" stroke="#3535a5" stroke-width="1.1" stroke-linejoin="round" stroke-linecap="round" />
<polyline points="29.5,697.5 34.0,697.0 38.5,693.9 41.2,696.5 45.2,698.7 51.9,699.8 65.4,700.6 78.8,701.1 105.8,700.6 132.7,699.8 157.0,699.2" fill="none" stroke="#222" stroke-width="1.1" stroke-linejoin="round" stroke-linecap="round" />
<line x1="35.1" y1="576" x2="35.1" y2="656" stroke="#2e2e9a" stroke-width="1.8" />
<line x1="35.1" y1="656" x2="35.1" y2="696" stroke="#9a9ab8" stroke-width="1.8" />
<rect x="111" y="567" width="36" height="36" fill="#fff" stroke="none" stroke-width="1" />
<text x="117.9" y="585" font-size="11" font-weight="bold" fill="#2222a8" text-anchor="start" >-WT</text>
<text x="117.9" y="597.7" font-size="11.3" font-weight="normal" fill="#111" text-anchor="start" stroke="#111" stroke-width="0.5" >-S94D</text>
<rect x="181.5" y="540.5" width="160.5" height="190.5" fill="#ececec" stroke="none" stroke-width="1" />
<line x1="182.1" y1="547" x2="182.1" y2="572" stroke="#8888dd" stroke-width="1.2" />
<line x1="182.1" y1="572" x2="182.1" y2="593" stroke="#a0a0b0" stroke-width="1.2" />
<rect x="188.4" y="543.6" width="152.29999999999998" height="186.69999999999993" fill="#e1e1e1" stroke="#7c7c7c" stroke-width="1.3" />
<line x1="188.4" y1="544.2" x2="188.4" y2="729.8" stroke="#b4b4b4" stroke-width="1.3" />
<line x1="189.6" y1="728.8" x2="339.7" y2="728.8" stroke="#f4f4f4" stroke-width="0.8" />
<rect x="204" y="561.3" width="123.60000000000002" height="150.5" fill="#ffffff" stroke="none" stroke-width="1" />
<line x1="219.4" y1="561.3" x2="219.4" y2="711.8" stroke="#555" stroke-width="0.9" />
<line x1="234.8" y1="561.3" x2="234.8" y2="711.8" stroke="#555" stroke-width="0.9" />
<line x1="250.2" y1="561.3" x2="250.2" y2="711.8" stroke="#555" stroke-width="0.9" />
<line x1="265.6" y1="561.3" x2="265.6" y2="711.8" stroke="#555" stroke-width="0.9" />
<line x1="281.0" y1="561.3" x2="281.0" y2="711.8" stroke="#555" stroke-width="0.9" />
<line x1="296.4" y1="561.3" x2="296.4" y2="711.8" stroke="#555" stroke-width="0.9" />
<line x1="311.8" y1="561.3" x2="311.8" y2="711.8" stroke="#555" stroke-width="0.9" />
<line x1="327.2" y1="561.3" x2="327.2" y2="711.8" stroke="#555" stroke-width="0.9" />
<line x1="204" y1="575.9" x2="327.6" y2="575.9" stroke="#555" stroke-width="0.9" />
<line x1="204" y1="588.04" x2="327.6" y2="588.04" stroke="#555" stroke-width="0.9" />
<line x1="204" y1="600.18" x2="327.6" y2="600.18" stroke="#555" stroke-width="0.9" />
<line x1="204" y1="612.3199999999999" x2="327.6" y2="612.3199999999999" stroke="#555" stroke-width="0.9" />
<line x1="204" y1="624.46" x2="327.6" y2="624.46" stroke="#555" stroke-width="0.9" />
<line x1="204" y1="636.6" x2="327.6" y2="636.6" stroke="#555" stroke-width="0.9" />
<line x1="204" y1="648.74" x2="327.6" y2="648.74" stroke="#555" stroke-width="0.9" />
<line x1="204" y1="660.88" x2="327.6" y2="660.88" stroke="#555" stroke-width="0.9" />
<line x1="204" y1="673.02" x2="327.6" y2="673.02" stroke="#555" stroke-width="0.9" />
<line x1="204" y1="685.16" x2="327.6" y2="685.16" stroke="#555" stroke-width="0.9" />
<line x1="204" y1="697.3" x2="327.6" y2="697.3" stroke="#555" stroke-width="0.9" />
<rect x="204" y="561.3" width="123.60000000000002" height="150.5" fill="none" stroke="#444" stroke-width="1" />
<line x1="327.6" y1="561.3" x2="327.6" y2="711.8" stroke="#666" stroke-width="1.4" />
<line x1="202" y1="575.9" x2="204" y2="575.9" stroke="#555" stroke-width="0.9" />
<line x1="327.6" y1="575.9" x2="329.8" y2="575.9" stroke="#666" stroke-width="0.9" />
<text x="202.5" y="577.9" font-size="5.6" font-weight="normal" fill="#555" text-anchor="end" stroke="#555" stroke-width="0.15" letter-spacing="-0.35">0</text>
<text x="328.8" y="577.9" font-size="5.6" font-weight="normal" fill="#666" text-anchor="start" stroke="#666" stroke-width="0.15" letter-spacing="-0.35">100</text>
<line x1="202" y1="588.04" x2="204" y2="588.04" stroke="#555" stroke-width="0.9" />
<line x1="327.6" y1="588.04" x2="329.8" y2="588.04" stroke="#666" stroke-width="0.9" />
<text x="202.5" y="590.04" font-size="5.6" font-weight="normal" fill="#555" text-anchor="end" stroke="#555" stroke-width="0.15" letter-spacing="-0.35">10</text>
<text x="328.8" y="590.04" font-size="5.6" font-weight="normal" fill="#666" text-anchor="start" stroke="#666" stroke-width="0.15" letter-spacing="-0.35">90</text>
<line x1="202" y1="600.18" x2="204" y2="600.18" stroke="#555" stroke-width="0.9" />
<line x1="327.6" y1="600.18" x2="329.8" y2="600.18" stroke="#666" stroke-width="0.9" />
<text x="202.5" y="602.18" font-size="5.6" font-weight="normal" fill="#555" text-anchor="end" stroke="#555" stroke-width="0.15" letter-spacing="-0.35">20</text>
<text x="328.8" y="602.18" font-size="5.6" font-weight="normal" fill="#666" text-anchor="start" stroke="#666" stroke-width="0.15" letter-spacing="-0.35">80</text>
<line x1="202" y1="612.3199999999999" x2="204" y2="612.3199999999999" stroke="#555" stroke-width="0.9" />
<line x1="327.6" y1="612.3199999999999" x2="329.8" y2="612.3199999999999" stroke="#666" stroke-width="0.9" />
<text x="202.5" y="614.3199999999999" font-size="5.6" font-weight="normal" fill="#555" text-anchor="end" stroke="#555" stroke-width="0.15" letter-spacing="-0.35">30</text>
<text x="328.8" y="614.3199999999999" font-size="5.6" font-weight="normal" fill="#666" text-anchor="start" stroke="#666" stroke-width="0.15" letter-spacing="-0.35">70</text>
<line x1="202" y1="624.46" x2="204" y2="624.46" stroke="#555" stroke-width="0.9" />
<line x1="327.6" y1="624.46" x2="329.8" y2="624.46" stroke="#666" stroke-width="0.9" />
<text x="202.5" y="626.46" font-size="5.6" font-weight="normal" fill="#555" text-anchor="end" stroke="#555" stroke-width="0.15" letter-spacing="-0.35">40</text>
<text x="328.8" y="626.46" font-size="5.6" font-weight="normal" fill="#666" text-anchor="start" stroke="#666" stroke-width="0.15" letter-spacing="-0.35">60</text>
<line x1="202" y1="636.6" x2="204" y2="636.6" stroke="#555" stroke-width="0.9" />
<line x1="327.6" y1="636.6" x2="329.8" y2="636.6" stroke="#666" stroke-width="0.9" />
<text x="202.5" y="638.6" font-size="5.6" font-weight="normal" fill="#555" text-anchor="end" stroke="#555" stroke-width="0.15" letter-spacing="-0.35">50</text>
<text x="328.8" y="638.6" font-size="5.6" font-weight="normal" fill="#666" text-anchor="start" stroke="#666" stroke-width="0.15" letter-spacing="-0.35">50</text>
<line x1="202" y1="648.74" x2="204" y2="648.74" stroke="#555" stroke-width="0.9" />
<line x1="327.6" y1="648.74" x2="329.8" y2="648.74" stroke="#666" stroke-width="0.9" />
<text x="202.5" y="650.74" font-size="5.6" font-weight="normal" fill="#555" text-anchor="end" stroke="#555" stroke-width="0.15" letter-spacing="-0.35">60</text>
<text x="328.8" y="650.74" font-size="5.6" font-weight="normal" fill="#666" text-anchor="start" stroke="#666" stroke-width="0.15" letter-spacing="-0.35">40</text>
<line x1="202" y1="660.88" x2="204" y2="660.88" stroke="#555" stroke-width="0.9" />
<line x1="327.6" y1="660.88" x2="329.8" y2="660.88" stroke="#666" stroke-width="0.9" />
<text x="202.5" y="662.88" font-size="5.6" font-weight="normal" fill="#555" text-anchor="end" stroke="#555" stroke-width="0.15" letter-spacing="-0.35">70</text>
<text x="328.8" y="662.88" font-size="5.6" font-weight="normal" fill="#666" text-anchor="start" stroke="#666" stroke-width="0.15" letter-spacing="-0.35">30</text>
<line x1="202" y1="673.02" x2="204" y2="673.02" stroke="#555" stroke-width="0.9" />
<line x1="327.6" y1="673.02" x2="329.8" y2="673.02" stroke="#666" stroke-width="0.9" />
<text x="202.5" y="675.02" font-size="5.6" font-weight="normal" fill="#555" text-anchor="end" stroke="#555" stroke-width="0.15" letter-spacing="-0.35">80</text>
<text x="328.8" y="675.02" font-size="5.6" font-weight="normal" fill="#666" text-anchor="start" stroke="#666" stroke-width="0.15" letter-spacing="-0.35">20</text>
<line x1="202" y1="685.16" x2="204" y2="685.16" stroke="#555" stroke-width="0.9" />
<line x1="327.6" y1="685.16" x2="329.8" y2="685.16" stroke="#666" stroke-width="0.9" />
<text x="202.5" y="687.16" font-size="5.6" font-weight="normal" fill="#555" text-anchor="end" stroke="#555" stroke-width="0.15" letter-spacing="-0.35">90</text>
<text x="328.8" y="687.16" font-size="5.6" font-weight="normal" fill="#666" text-anchor="start" stroke="#666" stroke-width="0.15" letter-spacing="-0.35">10</text>
<line x1="202" y1="697.3" x2="204" y2="697.3" stroke="#555" stroke-width="0.9" />
<line x1="327.6" y1="697.3" x2="329.8" y2="697.3" stroke="#666" stroke-width="0.9" />
<text x="202.5" y="699.3" font-size="5.6" font-weight="normal" fill="#555" text-anchor="end" stroke="#555" stroke-width="0.15" letter-spacing="-0.35">100</text>
<text x="328.8" y="699.3" font-size="5.6" font-weight="normal" fill="#666" text-anchor="start" stroke="#666" stroke-width="0.15" letter-spacing="-0.35">0</text>
<text x="0" y="0" font-size="5.6" font-weight="normal" fill="#555" text-anchor="middle" stroke="#555" stroke-width="0.45" font-family='"Liberation Mono", monospace' transform="translate(192.4,638) rotate(-90)">Percent</text>
<text x="218.4" y="716.8" font-size="4.1" font-weight="normal" fill="#555" text-anchor="middle" stroke="#555" stroke-width="0.2" >1.00</text>
<text x="233.8" y="716.8" font-size="4.1" font-weight="normal" fill="#555" text-anchor="middle" stroke="#555" stroke-width="0.2" >2.00</text>
<text x="249.2" y="716.8" font-size="4.1" font-weight="normal" fill="#555" text-anchor="middle" stroke="#555" stroke-width="0.2" >3.00</text>
<text x="264.6" y="716.8" font-size="4.1" font-weight="normal" fill="#555" text-anchor="middle" stroke="#555" stroke-width="0.2" >4.00</text>
<text x="280.0" y="716.8" font-size="4.1" font-weight="normal" fill="#555" text-anchor="middle" stroke="#555" stroke-width="0.2" >5.00</text>
<text x="295.4" y="716.8" font-size="4.1" font-weight="normal" fill="#555" text-anchor="middle" stroke="#555" stroke-width="0.2" >6.00</text>
<text x="310.8" y="716.8" font-size="4.1" font-weight="normal" fill="#555" text-anchor="middle" stroke="#555" stroke-width="0.2" >7.00</text>
<text x="326.2" y="716.8" font-size="4.1" font-weight="normal" fill="#555" text-anchor="middle" stroke="#555" stroke-width="0.2" >8.00</text>
<text x="265.8" y="721.8" font-size="4.1" font-weight="bold" fill="#555" text-anchor="middle" >Time (min:sec)</text>
<text x="219.81891025641025" y="553.9" font-size="3.9" font-weight="bold" fill="#3333aa" text-anchor="middle" stroke="#3333aa" stroke-width="0.05" font-family='"Liberation Mono", monospace'>Trace 1</text>
<line x1="212.31891025641025" y1="555.0" x2="227.31891025641025" y2="555.0" stroke="#3333cc" stroke-width="1.1" />
<text x="250.76705128205128" y="553.9" font-size="3.9" font-weight="bold" fill="#222" text-anchor="middle" stroke="#222" stroke-width="0.05" font-family='"Liberation Mono", monospace'>Trace 2</text>
<line x1="243.26705128205128" y1="555.0" x2="258.2670512820513" y2="555.0" stroke="#222" stroke-width="1.1" />
<text x="281.7151923076923" y="553.9" font-size="3.9" font-weight="bold" fill="#cc3333" text-anchor="middle" stroke="#cc3333" stroke-width="0.05" font-family='"Liberation Mono", monospace'>Trace 3</text>
<line x1="274.2151923076923" y1="555.0" x2="289.2151923076923" y2="555.0" stroke="#dd3333" stroke-width="1.1" />
<text x="312.6633333333333" y="553.9" font-size="3.9" font-weight="bold" fill="#2a7a2a" text-anchor="middle" stroke="#2a7a2a" stroke-width="0.05" font-family='"Liberation Mono", monospace'>Trace 4</text>
<line x1="305.1633333333333" y1="555.0" x2="320.1633333333333" y2="555.0" stroke="#2a8a2a" stroke-width="1.1" />
<polyline points="204.0,697.5 205.8,696.5 211.5,695.6 214.4,695.6 217.3,697.5 219.2,706.2 221.2,710.0 223.5,711.5 226.9,709.0 229.6,705.5 235.0,698.5 240.4,690.5 244.4,681.9 247.1,672.5 249.8,663.1" fill="none" stroke="#4a4ac0" stroke-width="1.0" stroke-linejoin="round" stroke-linecap="round" />
<polyline points="249.8,663.1 252.5,656.3 257.9,649.6 264.6,643.5 272.7,637.5 283.5,631.5 294.2,627.0 305.0,623.0 313.1,620.3 320.0,618.0 327.4,615.5" fill="none" stroke="#2a2ab0" stroke-width="1.9" stroke-linejoin="round" stroke-linecap="round" />
<polyline points="204.0,703.3 207.7,702.7 211.5,703.3 214.4,698.5 217.3,696.2 219.2,703.3 221.2,708.0 223.0,710.4 226.9,711.5 234.6,711.9 238.5,711.5 245.8,708.8 253.8,703.5 261.9,696.7 270.0,688.7 278.1,680.6 286.2,672.5 294.2,665.8 302.3,659.5 310.4,654.5 318.5,650.2 327.4,646.7" fill="none" stroke="#222" stroke-width="1.1" stroke-linejoin="round" stroke-linecap="round" />
<polyline points="204.0,703.3 211.5,703.3" fill="none" stroke="#222" stroke-width="2.2" stroke-linejoin="round" stroke-linecap="round" />
<line x1="207.3" y1="576" x2="207.3" y2="696" stroke="#4a4ab8" stroke-width="1.2" />
<line x1="212.2" y1="576" x2="212.2" y2="700" stroke="#222" stroke-width="1.2" />
<rect x="280" y="570" width="39.5" height="34" fill="#fff" stroke="none" stroke-width="1" />
<text x="287.7" y="585.8" font-size="11" font-weight="bold" fill="#2222a8" text-anchor="start" >-WT</text>
<text x="287.7" y="598.4" font-size="11.3" font-weight="normal" fill="#111" text-anchor="start" stroke="#111" stroke-width="0.5" >-S94D</text>
<rect x="354.5" y="540.5" width="167.5" height="190.5" fill="#ececec" stroke="none" stroke-width="1" />
<line x1="355.1" y1="547" x2="355.1" y2="572" stroke="#8888dd" stroke-width="1.2" />
<line x1="355.1" y1="572" x2="355.1" y2="593" stroke="#a0a0b0" stroke-width="1.2" />
<rect x="361.2" y="543.6" width="157.40000000000003" height="186.69999999999993" fill="#e1e1e1" stroke="#7c7c7c" stroke-width="1.3" />
<line x1="361.2" y1="544.2" x2="361.2" y2="729.8" stroke="#b4b4b4" stroke-width="1.3" />
<line x1="362.4" y1="728.8" x2="517.6" y2="728.8" stroke="#f4f4f4" stroke-width="0.8" />
<rect x="377.5" y="561.3" width="129.10000000000002" height="150.5" fill="#ffffff" stroke="none" stroke-width="1" />
<line x1="393.2" y1="561.3" x2="393.2" y2="711.8" stroke="#555" stroke-width="0.9" />
<line x1="408.9" y1="561.3" x2="408.9" y2="711.8" stroke="#555" stroke-width="0.9" />
<line x1="424.6" y1="561.3" x2="424.6" y2="711.8" stroke="#555" stroke-width="0.9" />
<line x1="440.3" y1="561.3" x2="440.3" y2="711.8" stroke="#555" stroke-width="0.9" />
<line x1="456.0" y1="561.3" x2="456.0" y2="711.8" stroke="#555" stroke-width="0.9" />
<line x1="471.7" y1="561.3" x2="471.7" y2="711.8" stroke="#555" stroke-width="0.9" />
<line x1="487.4" y1="561.3" x2="487.4" y2="711.8" stroke="#555" stroke-width="0.9" />
<line x1="503.1" y1="561.3" x2="503.1" y2="711.8" stroke="#555" stroke-width="0.9" />
<line x1="377.5" y1="575.9" x2="506.6" y2="575.9" stroke="#555" stroke-width="0.9" />
<line x1="377.5" y1="588.04" x2="506.6" y2="588.04" stroke="#555" stroke-width="0.9" />
<line x1="377.5" y1="600.18" x2="506.6" y2="600.18" stroke="#555" stroke-width="0.9" />
<line x1="377.5" y1="612.3199999999999" x2="506.6" y2="612.3199999999999" stroke="#555" stroke-width="0.9" />
<line x1="377.5" y1="624.46" x2="506.6" y2="624.46" stroke="#555" stroke-width="0.9" />
<line x1="377.5" y1="636.6" x2="506.6" y2="636.6" stroke="#555" stroke-width="0.9" />
<line x1="377.5" y1="648.74" x2="506.6" y2="648.74" stroke="#555" stroke-width="0.9" />
<line x1="377.5" y1="660.88" x2="506.6" y2="660.88" stroke="#555" stroke-width="0.9" />
<line x1="377.5" y1="673.02" x2="506.6" y2="673.02" stroke="#555" stroke-width="0.9" />
<line x1="377.5" y1="685.16" x2="506.6" y2="685.16" stroke="#555" stroke-width="0.9" />
<line x1="377.5" y1="697.3" x2="506.6" y2="697.3" stroke="#555" stroke-width="0.9" />
<rect x="377.5" y="561.3" width="129.10000000000002" height="150.5" fill="none" stroke="#444" stroke-width="1" />
<line x1="506.6" y1="561.3" x2="506.6" y2="711.8" stroke="#666" stroke-width="1.4" />
<line x1="375.5" y1="575.9" x2="377.5" y2="575.9" stroke="#555" stroke-width="0.9" />
<line x1="506.6" y1="575.9" x2="508.8" y2="575.9" stroke="#666" stroke-width="0.9" />
<text x="376.0" y="577.9" font-size="5.6" font-weight="normal" fill="#555" text-anchor="end" stroke="#555" stroke-width="0.15" letter-spacing="-0.35">0</text>
<text x="507.8" y="577.9" font-size="5.6" font-weight="normal" fill="#666" text-anchor="start" stroke="#666" stroke-width="0.15" letter-spacing="-0.35">100</text>
<line x1="375.5" y1="588.04" x2="377.5" y2="588.04" stroke="#555" stroke-width="0.9" />
<line x1="506.6" y1="588.04" x2="508.8" y2="588.04" stroke="#666" stroke-width="0.9" />
<text x="376.0" y="590.04" font-size="5.6" font-weight="normal" fill="#555" text-anchor="end" stroke="#555" stroke-width="0.15" letter-spacing="-0.35">10</text>
<text x="507.8" y="590.04" font-size="5.6" font-weight="normal" fill="#666" text-anchor="start" stroke="#666" stroke-width="0.15" letter-spacing="-0.35">90</text>
<line x1="375.5" y1="600.18" x2="377.5" y2="600.18" stroke="#555" stroke-width="0.9" />
<line x1="506.6" y1="600.18" x2="508.8" y2="600.18" stroke="#666" stroke-width="0.9" />
<text x="376.0" y="602.18" font-size="5.6" font-weight="normal" fill="#555" text-anchor="end" stroke="#555" stroke-width="0.15" letter-spacing="-0.35">20</text>
<text x="507.8" y="602.18" font-size="5.6" font-weight="normal" fill="#666" text-anchor="start" stroke="#666" stroke-width="0.15" letter-spacing="-0.35">80</text>
<line x1="375.5" y1="612.3199999999999" x2="377.5" y2="612.3199999999999" stroke="#555" stroke-width="0.9" />
<line x1="506.6" y1="612.3199999999999" x2="508.8" y2="612.3199999999999" stroke="#666" stroke-width="0.9" />
<text x="376.0" y="614.3199999999999" font-size="5.6" font-weight="normal" fill="#555" text-anchor="end" stroke="#555" stroke-width="0.15" letter-spacing="-0.35">30</text>
<text x="507.8" y="614.3199999999999" font-size="5.6" font-weight="normal" fill="#666" text-anchor="start" stroke="#666" stroke-width="0.15" letter-spacing="-0.35">70</text>
<line x1="375.5" y1="624.46" x2="377.5" y2="624.46" stroke="#555" stroke-width="0.9" />
<line x1="506.6" y1="624.46" x2="508.8" y2="624.46" stroke="#666" stroke-width="0.9" />
<text x="376.0" y="626.46" font-size="5.6" font-weight="normal" fill="#555" text-anchor="end" stroke="#555" stroke-width="0.15" letter-spacing="-0.35">40</text>
<text x="507.8" y="626.46" font-size="5.6" font-weight="normal" fill="#666" text-anchor="start" stroke="#666" stroke-width="0.15" letter-spacing="-0.35">60</text>
<line x1="375.5" y1="636.6" x2="377.5" y2="636.6" stroke="#555" stroke-width="0.9" />
<line x1="506.6" y1="636.6" x2="508.8" y2="636.6" stroke="#666" stroke-width="0.9" />
<text x="376.0" y="638.6" font-size="5.6" font-weight="normal" fill="#555" text-anchor="end" stroke="#555" stroke-width="0.15" letter-spacing="-0.35">50</text>
<text x="507.8" y="638.6" font-size="5.6" font-weight="normal" fill="#666" text-anchor="start" stroke="#666" stroke-width="0.15" letter-spacing="-0.35">50</text>
<line x1="375.5" y1="648.74" x2="377.5" y2="648.74" stroke="#555" stroke-width="0.9" />
<line x1="506.6" y1="648.74" x2="508.8" y2="648.74" stroke="#666" stroke-width="0.9" />
<text x="376.0" y="650.74" font-size="5.6" font-weight="normal" fill="#555" text-anchor="end" stroke="#555" stroke-width="0.15" letter-spacing="-0.35">60</text>
<text x="507.8" y="650.74" font-size="5.6" font-weight="normal" fill="#666" text-anchor="start" stroke="#666" stroke-width="0.15" letter-spacing="-0.35">40</text>
<line x1="375.5" y1="660.88" x2="377.5" y2="660.88" stroke="#555" stroke-width="0.9" />
<line x1="506.6" y1="660.88" x2="508.8" y2="660.88" stroke="#666" stroke-width="0.9" />
<text x="376.0" y="662.88" font-size="5.6" font-weight="normal" fill="#555" text-anchor="end" stroke="#555" stroke-width="0.15" letter-spacing="-0.35">70</text>
<text x="507.8" y="662.88" font-size="5.6" font-weight="normal" fill="#666" text-anchor="start" stroke="#666" stroke-width="0.15" letter-spacing="-0.35">30</text>
<line x1="375.5" y1="673.02" x2="377.5" y2="673.02" stroke="#555" stroke-width="0.9" />
<line x1="506.6" y1="673.02" x2="508.8" y2="673.02" stroke="#666" stroke-width="0.9" />
<text x="376.0" y="675.02" font-size="5.6" font-weight="normal" fill="#555" text-anchor="end" stroke="#555" stroke-width="0.15" letter-spacing="-0.35">80</text>
<text x="507.8" y="675.02" font-size="5.6" font-weight="normal" fill="#666" text-anchor="start" stroke="#666" stroke-width="0.15" letter-spacing="-0.35">20</text>
<line x1="375.5" y1="685.16" x2="377.5" y2="685.16" stroke="#555" stroke-width="0.9" />
<line x1="506.6" y1="685.16" x2="508.8" y2="685.16" stroke="#666" stroke-width="0.9" />
<text x="376.0" y="687.16" font-size="5.6" font-weight="normal" fill="#555" text-anchor="end" stroke="#555" stroke-width="0.15" letter-spacing="-0.35">90</text>
<text x="507.8" y="687.16" font-size="5.6" font-weight="normal" fill="#666" text-anchor="start" stroke="#666" stroke-width="0.15" letter-spacing="-0.35">10</text>
<line x1="375.5" y1="697.3" x2="377.5" y2="697.3" stroke="#555" stroke-width="0.9" />
<line x1="506.6" y1="697.3" x2="508.8" y2="697.3" stroke="#666" stroke-width="0.9" />
<text x="376.0" y="699.3" font-size="5.6" font-weight="normal" fill="#555" text-anchor="end" stroke="#555" stroke-width="0.15" letter-spacing="-0.35">100</text>
<text x="507.8" y="699.3" font-size="5.6" font-weight="normal" fill="#666" text-anchor="start" stroke="#666" stroke-width="0.15" letter-spacing="-0.35">0</text>
<text x="0" y="0" font-size="5.6" font-weight="normal" fill="#555" text-anchor="middle" stroke="#555" stroke-width="0.45" font-family='"Liberation Mono", monospace' transform="translate(365.2,638) rotate(-90)">Percent</text>
<text x="392.2" y="716.8" font-size="4.1" font-weight="normal" fill="#555" text-anchor="middle" stroke="#555" stroke-width="0.2" >1.00</text>
<text x="407.9" y="716.8" font-size="4.1" font-weight="normal" fill="#555" text-anchor="middle" stroke="#555" stroke-width="0.2" >2.00</text>
<text x="423.6" y="716.8" font-size="4.1" font-weight="normal" fill="#555" text-anchor="middle" stroke="#555" stroke-width="0.2" >3.00</text>
<text x="439.3" y="716.8" font-size="4.1" font-weight="normal" fill="#555" text-anchor="middle" stroke="#555" stroke-width="0.2" >4.00</text>
<text x="455.0" y="716.8" font-size="4.1" font-weight="normal" fill="#555" text-anchor="middle" stroke="#555" stroke-width="0.2" >5.00</text>
<text x="470.7" y="716.8" font-size="4.1" font-weight="normal" fill="#555" text-anchor="middle" stroke="#555" stroke-width="0.2" >6.00</text>
<text x="486.4" y="716.8" font-size="4.1" font-weight="normal" fill="#555" text-anchor="middle" stroke="#555" stroke-width="0.2" >7.00</text>
<text x="502.1" y="716.8" font-size="4.1" font-weight="normal" fill="#555" text-anchor="middle" stroke="#555" stroke-width="0.2" >8.00</text>
<text x="442.05" y="721.8" font-size="4.1" font-weight="bold" fill="#555" text-anchor="middle" >Time (min:sec)</text>
<text x="393.41987179487177" y="553.9" font-size="3.9" font-weight="bold" fill="#3333aa" text-anchor="middle" stroke="#3333aa" stroke-width="0.05" font-family='"Liberation Mono", monospace'>Trace 1</text>
<line x1="385.91987179487177" y1="555.0" x2="400.91987179487177" y2="555.0" stroke="#3333cc" stroke-width="1.1" />
<text x="425.40435897435896" y="553.9" font-size="3.9" font-weight="bold" fill="#222" text-anchor="middle" stroke="#222" stroke-width="0.05" font-family='"Liberation Mono", monospace'>Trace 2</text>
<line x1="417.90435897435896" y1="555.0" x2="432.90435897435896" y2="555.0" stroke="#222" stroke-width="1.1" />
<text x="457.3888461538462" y="553.9" font-size="3.9" font-weight="bold" fill="#cc3333" text-anchor="middle" stroke="#cc3333" stroke-width="0.05" font-family='"Liberation Mono", monospace'>Trace 3</text>
<line x1="449.8888461538462" y1="555.0" x2="464.8888461538462" y2="555.0" stroke="#dd3333" stroke-width="1.1" />
<text x="489.37333333333333" y="553.9" font-size="3.9" font-weight="bold" fill="#2a7a2a" text-anchor="middle" stroke="#2a7a2a" stroke-width="0.05" font-family='"Liberation Mono", monospace'>Trace 4</text>
<line x1="481.87333333333333" y1="555.0" x2="496.87333333333333" y2="555.0" stroke="#2a8a2a" stroke-width="1.1" />
<polyline points="377.5,696.4 382.0,695.5 384.8,692.9 387.5,702.3 390.2,695.6 392.9,707.7 395.6,694.2 399.6,678.1 405.0,664.6 413.1,652.5 421.2,643.1 429.2,635.8 440.0,629.0 450.8,623.8 464.2,618.5 477.7,614.8 491.2,611.3 506.5,608.2" fill="none" stroke="#3535a5" stroke-width="1.1" stroke-linejoin="round" stroke-linecap="round" />
<polyline points="377.5,696.9 382.1,696.4 386.2,697.5 390.2,699.6 392.9,688.9 396.9,678.1 402.3,667.3 410.4,655.2 418.5,645.8 429.2,637.7 440.0,631.8 450.8,626.9 464.2,621.5 477.7,616.7 491.2,613.5 506.5,611.0" fill="none" stroke="#222" stroke-width="1.1" stroke-linejoin="round" stroke-linecap="round" />
<line x1="382.8" y1="576" x2="382.8" y2="691" stroke="#3838a8" stroke-width="1.2" />
<line x1="378.6" y1="576" x2="378.6" y2="697" stroke="#4a554a" stroke-width="1.3" />
<rect x="439" y="570" width="37" height="34" fill="#fff" stroke="none" stroke-width="1" />
<text x="447" y="586.2" font-size="11" font-weight="bold" fill="#2222a8" text-anchor="start" >-WT</text>
<text x="447" y="600" font-size="11.3" font-weight="normal" fill="#111" text-anchor="start" stroke="#111" stroke-width="0.5" >-S94D</text>
<line x1="377.8" y1="673.2" x2="382.8" y2="673.2" stroke="#3838a8" stroke-width="1.2" />
<text x="98.4" y="753.6" font-size="11" font-weight="normal" fill="#000" text-anchor="middle" stroke="#000" stroke-width="0.45" >AYPGKF 75μM</text>
<text x="277.2" y="753.6" font-size="11" font-weight="normal" fill="#000" text-anchor="middle" stroke="#000" stroke-width="0.45" >AYPGKF 100μM</text>
<text x="446" y="753.6" font-size="11" font-weight="normal" fill="#000" text-anchor="middle" stroke="#000" stroke-width="0.45" >AYPGKF 150μM</text>
<line x1="125.2" y1="790.3" x2="125.2" y2="974.4" stroke="#111" stroke-width="1.3" />
<line x1="125.2" y1="974.4" x2="405" y2="974.4" stroke="#111" stroke-width="1.3" />
<line x1="122.2" y1="974.4" x2="125.2" y2="974.4" stroke="#111" stroke-width="1.1" />
<text x="115.8" y="977.9" font-size="10" font-weight="normal" fill="#111" text-anchor="end" stroke="#111" stroke-width="0.45" >0%</text>
<line x1="122.2" y1="937.6999999999999" x2="125.2" y2="937.6999999999999" stroke="#111" stroke-width="1.1" />
<text x="115.8" y="941.1999999999999" font-size="10" font-weight="normal" fill="#111" text-anchor="end" stroke="#111" stroke-width="0.45" >10%</text>
<line x1="122.2" y1="901.0" x2="125.2" y2="901.0" stroke="#111" stroke-width="1.1" />
<text x="115.8" y="904.5" font-size="10" font-weight="normal" fill="#111" text-anchor="end" stroke="#111" stroke-width="0.45" >20%</text>
<line x1="122.2" y1="864.3" x2="125.2" y2="864.3" stroke="#111" stroke-width="1.1" />
<text x="115.8" y="867.8" font-size="10" font-weight="normal" fill="#111" text-anchor="end" stroke="#111" stroke-width="0.45" >30%</text>
<line x1="122.2" y1="827.5999999999999" x2="125.2" y2="827.5999999999999" stroke="#111" stroke-width="1.1" />
<text x="115.8" y="831.0999999999999" font-size="10" font-weight="normal" fill="#111" text-anchor="end" stroke="#111" stroke-width="0.45" >40%</text>
<line x1="122.2" y1="790.9" x2="125.2" y2="790.9" stroke="#111" stroke-width="1.1" />
<text x="115.8" y="794.4" font-size="10" font-weight="normal" fill="#111" text-anchor="end" stroke="#111" stroke-width="0.45" >50%</text>
<line x1="125.2" y1="974.4" x2="125.2" y2="977.6999999999999" stroke="#111" stroke-width="1.1" />
<line x1="218.8" y1="974.4" x2="218.8" y2="977.6999999999999" stroke="#111" stroke-width="1.1" />
<line x1="311.6" y1="974.4" x2="311.6" y2="977.6999999999999" stroke="#111" stroke-width="1.1" />
<line x1="404.4" y1="974.4" x2="404.4" y2="977.6999999999999" stroke="#111" stroke-width="1.1" />
<text x="0" y="0" font-size="11.3" font-weight="normal" fill="#111" text-anchor="middle" stroke="#111" stroke-width="0.45" transform="translate(86.2,879) rotate(-90)">Maximum Slope (%/min)</text>
<line x1="158.4" y1="876.6" x2="158.4" y2="898.8" stroke="#111" stroke-width="1.4" />
<line x1="155.5" y1="876.6" x2="161.3" y2="876.6" stroke="#111" stroke-width="1.4" />
<rect x="144.9" y="898.8" width="27.0" height="75.60000000000002" fill="#3b6ff0" stroke="none" stroke-width="1" />
<rect x="171.9" y="970.3" width="26.599999999999994" height="4.100000000000023" fill="#000" stroke="none" stroke-width="1" />
<line x1="251.54999999999998" y1="835.4" x2="251.54999999999998" y2="865.4" stroke="#111" stroke-width="1.4" />
<line x1="248.64999999999998" y1="835.4" x2="254.45" y2="835.4" stroke="#111" stroke-width="1.4" />
<rect x="237.7" y="865.4" width="27.69999999999999" height="109.0" fill="#3b6ff0" stroke="none" stroke-width="1" />
<line x1="278.65" y1="874.6" x2="278.65" y2="906.2" stroke="#111" stroke-width="1.4" />
<line x1="275.75" y1="874.6" x2="281.54999999999995" y2="874.6" stroke="#111" stroke-width="1.4" />
<rect x="265.4" y="906.2" width="26.5" height="68.19999999999993" fill="#000" stroke="none" stroke-width="1" />
<line x1="344.79999999999995" y1="808.2" x2="344.79999999999995" y2="834.2" stroke="#111" stroke-width="1.4" />
<line x1="341.9" y1="808.2" x2="347.69999999999993" y2="808.2" stroke="#111" stroke-width="1.4" />
<rect x="331.2" y="834.2" width="27.19999999999999" height="140.19999999999993" fill="#3b6ff0" stroke="none" stroke-width="1" />
<line x1="371.65" y1="810" x2="371.65" y2="836.1" stroke="#111" stroke-width="1.4" />
<line x1="368.75" y1="810" x2="374.54999999999995" y2="810" stroke="#111" stroke-width="1.4" />
<rect x="358.4" y="836.1" width="26.5" height="138.29999999999995" fill="#000" stroke="none" stroke-width="1" />
<text x="170.8" y="856" font-size="11" font-weight="normal" fill="#111" text-anchor="middle" stroke="#111" stroke-width="0.45" >P&lt;0.05</text>
<text x="262.2" y="823.2" font-size="10.5" font-weight="normal" fill="#111" text-anchor="middle" stroke="#111" stroke-width="0.45" >N.S</text>
<text x="172" y="990.4" font-size="10" font-weight="normal" fill="#111" text-anchor="middle" stroke="#111" stroke-width="0.45" >AYP 75μM</text>
<text x="264.7" y="990.4" font-size="10" font-weight="normal" fill="#111" text-anchor="middle" stroke="#111" stroke-width="0.45" >AYP 100μM</text>
<text x="357.7" y="990.4" font-size="10" font-weight="normal" fill="#111" text-anchor="middle" stroke="#111" stroke-width="0.45" >AYP 150μM</text>
<rect x="407.8" y="862.9" width="5.5" height="5.4" fill="#3b6ff0" stroke="none" stroke-width="1" />
<rect x="407.8" y="883.3" width="5.5" height="5.2" fill="#000" stroke="none" stroke-width="1" />
<text x="415.6" y="869" font-size="8.6" font-weight="normal" fill="#111" text-anchor="start" stroke="#111" stroke-width="0.45" >WT</text>
<text x="415.6" y="889.5" font-size="8.6" font-weight="normal" fill="#111" text-anchor="start" stroke="#111" stroke-width="0.45" >S94D</text>
</svg></body></html>
